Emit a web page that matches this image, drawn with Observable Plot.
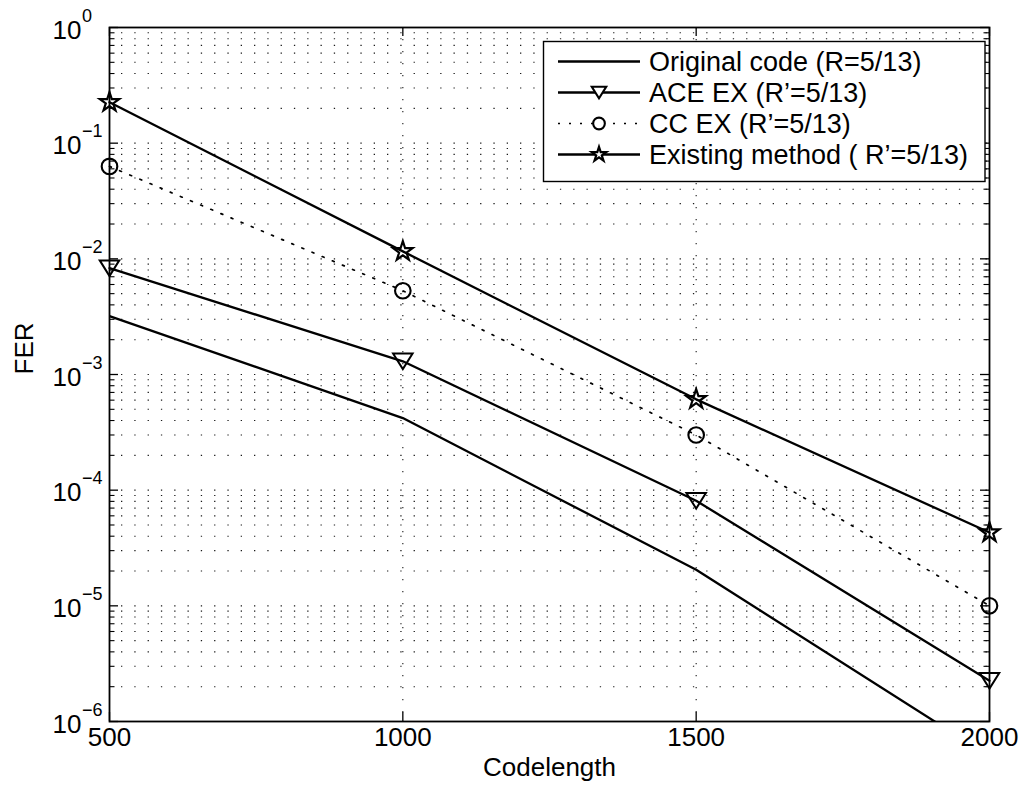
<!DOCTYPE html>
<html>
<head>
<meta charset="utf-8">
<script src="https://cdn.jsdelivr.net/npm/d3@7"></script>
<script src="https://cdn.jsdelivr.net/npm/@observablehq/plot@0.6"></script>
<style>
  body { margin: 0; background: #fff; }
  svg { display: block; }
</style>
</head>
<body>
<div id="chart"></div>
<script>
// Frame error rate versus code length for the four constructions
const codelength = [500, 1000, 1500, 2000];
const originalFER = [3.2e-3, 4.2e-4, 2.05e-5, 5.0e-7];
const aceFER = [8.3e-3, 1.3e-3, 8.1e-5, 2.25e-6];
const ccFER = [6.3e-2, 5.3e-3, 3.0e-4, 1.0e-5];
const existingFER = [0.226, 1.16e-2, 6.1e-4, 4.3e-5];

const seriesNames = [
  "Original code (R=5/13)",
  "ACE EX (R\u2019=5/13)",
  "CC EX (R\u2019=5/13)",
  "Existing method ( R\u2019=5/13)"
];

const xTicks = [500, 1000, 1500, 2000];
const yDecades = [1e0, 1e-1, 1e-2, 1e-3, 1e-4, 1e-5, 1e-6];
const yExponents = ["0", "\u22121", "\u22122", "\u22123", "\u22124", "\u22125", "\u22126"];
const xLabel = "Codelength";
const yLabel = "FER";

const W = 1025, H = 794;
const mL = 109, mR = 36, mT = 27, mB = 73;
const fw = W - mL - mR, fh = H - mT - mB;
const font = "'Liberation Sans', Arial, Helvetica, sans-serif";
const fs = 26, fsSup = 18, fsLegend = 27;

// all log-scale positions (1..9 × 10^k) for grid lines and minor ticks
const yGrid = d3.scaleLog().domain([1e-6, 1]).ticks();
const yMinor = yGrid.filter(v => !yDecades.some(d => Math.abs(Math.log10(v) - Math.log10(d)) < 1e-9));

// downward-pointing triangle centred on its bounding box
const triangleDown = {
  draw(ctx, size) {
    const r = Math.sqrt(size / Math.PI);
    const w = r * 1.25, h = r * 1.0;
    ctx.moveTo(-w, -h);
    ctx.lineTo(w, -h);
    ctx.lineTo(0, h);
    ctx.closePath();
  }
};

const rows = (ys) => codelength.map((x, i) => ({x, y: ys[i]}));
const original = rows(originalFER);
const ace = rows(aceFER);
const cc = rows(ccFER);
const existing = rows(existingFER);

const ccDash = "2,9";
const markerStyle = {
  triangle: {symbol: triangleDown, r: 7.8, strokeWidth: 2},
  circle: {symbol: "circle", r: 7.8, strokeWidth: 2.1},
  star: {symbol: "star", r: 6.1, strokeWidth: 2.2}
};

const svg = Plot.plot({
  width: W,
  height: H,
  marginLeft: mL,
  marginRight: mR,
  marginTop: mT,
  marginBottom: mB,
  style: {fontFamily: font, background: "white", color: "black", overflow: "visible"},
  x: {domain: [500, 2000], axis: null},
  y: {type: "log", domain: [1e-6, 1], axis: null},
  marks: [
    // dotted grid
    Plot.ruleY(yGrid, {stroke: "#000", strokeWidth: 1.1, strokeDasharray: "0,12,1.3,0", strokeOpacity: 0.9}),
    Plot.ruleX([1000, 1500], {stroke: "#000", strokeWidth: 1.1, strokeDasharray: "1.3,10.7", strokeOpacity: 0.9}),

    // inward ticks on all four sides
    Plot.tickY(yDecades, {stroke: "#000", strokeWidth: 1.3, insetRight: fw - 9}),
    Plot.tickY(yDecades, {stroke: "#000", strokeWidth: 1.3, insetLeft: fw - 9}),
    Plot.tickY(yMinor, {stroke: "#000", strokeWidth: 1.1, insetRight: fw - 5.5}),
    Plot.tickY(yMinor, {stroke: "#000", strokeWidth: 1.1, insetLeft: fw - 5.5}),
    Plot.tickX(xTicks, {stroke: "#000", strokeWidth: 1.3, insetTop: fh - 9}),
    Plot.tickX(xTicks, {stroke: "#000", strokeWidth: 1.3, insetBottom: fh - 9}),

    // series lines
    Plot.line(original, {x: "x", y: "y", stroke: "#000", strokeWidth: 2.3, clip: true}),
    Plot.line(ace, {x: "x", y: "y", stroke: "#000", strokeWidth: 2.3}),
    Plot.line(cc, {x: "x", y: "y", stroke: "#000", strokeWidth: 1.7, strokeDasharray: ccDash}),
    Plot.line(existing, {x: "x", y: "y", stroke: "#000", strokeWidth: 2.3}),

    // markers
    Plot.dot(ace, {x: "x", y: "y", stroke: "#000", fill: "none", ...markerStyle.triangle}),
    Plot.dot(cc, {x: "x", y: "y", stroke: "#000", fill: "none", ...markerStyle.circle}),
    Plot.dot(existing, {x: "x", y: "y", stroke: "#000", fill: "none", ...markerStyle.star}),

    Plot.frame({stroke: "#000", strokeWidth: 1.8}),

    // y tick labels: 10 with superscript exponent
    Plot.text(yDecades, {y: d => d, text: () => "10", frameAnchor: "left", textAnchor: "end",
      dx: -28, dy: 2.7, fontSize: fs, fill: "#000"}),
    Plot.text(yDecades, {y: d => d, text: (d, i) => yExponents[i], frameAnchor: "left", textAnchor: "start",
      dx: -27.5, dy: -11.5, fontSize: fsSup, fill: "#000"}),

    // x tick labels
    Plot.text(xTicks, {x: d => d, text: d => String(d), frameAnchor: "bottom", dy: 24.7,
      fontSize: fs, fill: "#000"}),

    // axis titles
    Plot.text([xLabel], {frameAnchor: "bottom", text: d => d, dy: 54.5, fontSize: fs, fill: "#000"}),
    Plot.text([yLabel], {frameAnchor: "left", text: d => d, rotate: -90, dx: -84.5, fontSize: fs, fill: "#000"})
  ]
});

// legend box in the upper right corner of the axes
const legend = d3.select(svg).append("g")
  .attr("font-family", font).attr("font-size", fsLegend).attr("text-anchor", "start");
const box = {x: 543.5, y: 41.5, w: 441.5, h: 140};
legend.append("rect")
  .attr("x", box.x).attr("y", box.y).attr("width", box.w).attr("height", box.h)
  .attr("fill", "white").attr("stroke", "#000").attr("stroke-width", 1.4);

const legendSymbols = [null, markerStyle.triangle, markerStyle.circle, markerStyle.star];
const legendDash = [null, null, ccDash, null];
const legendWidth = [2.3, 2.3, 1.7, 2.3];
const lx0 = 558, lx1 = 640, lxm = 599, tx = 649;
seriesNames.forEach((name, i) => {
  const base = 71 + i * 31;
  const cy = base - 9.5;
  legend.append("line")
    .attr("x1", lx0).attr("x2", lx1).attr("y1", cy).attr("y2", cy)
    .attr("stroke", "#000").attr("stroke-width", legendWidth[i])
    .attr("stroke-dasharray", legendDash[i]);
  const m = legendSymbols[i];
  if (m) {
    const type = m.symbol === "circle" ? d3.symbolCircle : m.symbol === "star" ? d3.symbolStar : m.symbol;
    const r = m.r * 0.75;
    legend.append("path")
      .attr("d", d3.symbol(type, Math.PI * r * r)())
      .attr("transform", `translate(${lxm},${cy})`)
      .attr("fill", "white").attr("stroke", "#000").attr("stroke-width", m.strokeWidth);
  }
  legend.append("text").attr("x", tx).attr("y", base).attr("fill", "#000")
    .attr("text-anchor", "start").text(name);
});

document.getElementById("chart").appendChild(svg);
</script>
</body>
</html>
